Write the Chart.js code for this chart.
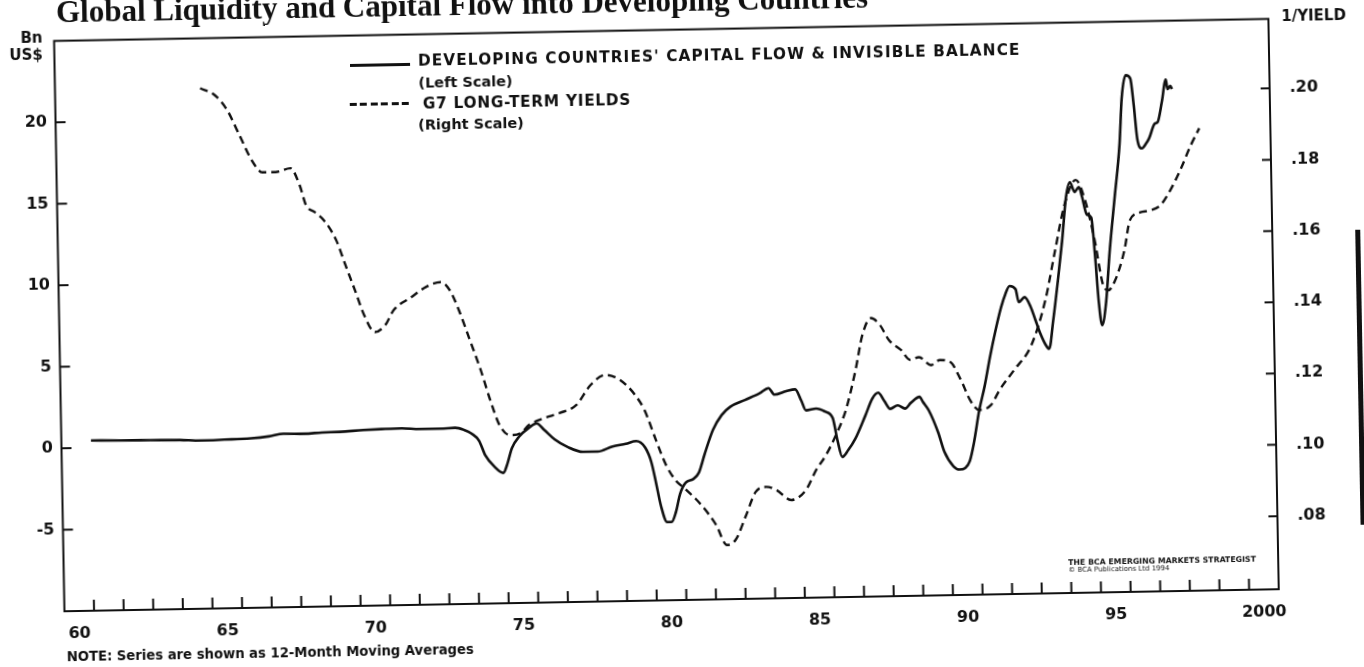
<!DOCTYPE html>
<html>
<head>
<meta charset="utf-8">
<script src="https://cdn.jsdelivr.net/npm/chart.js@4.4.1/dist/chart.umd.min.js"></script>
<style>
    html, body { margin: 0; padding: 0; background: #fff; width: 1364px; height: 667px; overflow: hidden; }
    /* the scanned page sits about one degree off square */
    #sheet { position: absolute; left: 0; top: 0; width: 1364px; height: 667px; transform: rotate(-1.04deg); transform-origin: 682px 333.5px; }
    #chart { position: absolute; left: 0; top: 0; }
    .txt { position: absolute; white-space: nowrap; font-family: "DejaVu Sans", sans-serif; font-weight: bold; color: #111; line-height: 1; }
    .title { font-family: "Liberation Serif", serif; font-size: 31px; left: 62px; top: -15px; }
    .caps { font-size: 15.3px; letter-spacing: 1.1px; }
    .small { font-size: 14.5px; }
    .unit { font-size: 15px; }
    .solidKey { position: absolute; left: 355px; top: 58px; width: 60px; height: 2.5px; background: #111; }
    .dashKey { position: absolute; left: 354px; top: 97px; width: 62px; height: 2.5px; background: repeating-linear-gradient(to right, #111 0 7px, transparent 7px 10.5px); }
    .bar { position: absolute; left: 1357px; top: 242px; width: 5px; height: 295px; background: #111; }
</style>
</head>
<body>
<div id="sheet">
    <canvas id="chart" width="1364" height="667"></canvas>
    <div class="txt title">Global Liquidity and Capital Flow into Developing Countries</div>
    <div class="txt unit" style="right:1316px; top:19px;">Bn</div>
    <div class="txt unit" style="right:1316px; top:36px;">US$</div>
    <div class="txt unit" style="left:1287px; top:20px;">1/YIELD</div>
    <div class="solidKey"></div>
    <div class="txt caps" style="left:423px; top:49px;">DEVELOPING COUNTRIES' CAPITAL FLOW &amp; INVISIBLE BALANCE</div>
    <div class="txt small" style="left:423px; top:71px;">(Left Scale)</div>
    <div class="dashKey"></div>
    <div class="txt caps" style="left:427px; top:92px; letter-spacing:0.75px;">G7 LONG-TERM YIELDS</div>
    <div class="txt small" style="left:422px; top:113px;">(Right Scale)</div>
    <div class="txt" style="left:1064px; top:566px; font-size:7.8px;">THE BCA EMERGING MARKETS STRATEGIST</div>
    <div class="txt" style="left:1064px; top:574px; font-size:7px; font-weight:normal;">© BCA Publications Ltd 1994</div>
    <div class="txt" style="left:61px; top:639px; font-size:13.2px;">NOTE: Series are shown as 12-Month Moving Averages</div>
    <div class="bar"></div>
</div>
<script>
// Developing countries' capital flow & invisible balance, Bn US$ (left scale)
const flowYears = [
    1961.0, 1962.0, 1963.0, 1964.0, 1964.7, 1965.5, 1966.4, 1967.0, 1967.5, 1968.2,
    1968.8, 1969.4, 1970.2, 1970.8, 1971.5, 1972.1, 1972.8, 1973.3, 1973.6, 1973.85,
    1974.1, 1974.3, 1974.6, 1974.9, 1975.05, 1975.2, 1975.45, 1975.8, 1976.05, 1976.3,
    1976.65, 1977.1, 1977.6, 1978.1, 1978.6, 1979.05, 1979.4, 1979.7, 1979.9, 1980.05,
    1980.2, 1980.4, 1980.55, 1980.7, 1980.85, 1981.05, 1981.3, 1981.5, 1981.7, 1982.0,
    1982.3, 1982.6, 1983.1, 1983.6, 1983.9, 1984.1, 1984.5, 1984.8, 1985.0, 1985.15,
    1985.5, 1985.8, 1986.05, 1986.2, 1986.35, 1986.55, 1986.8, 1987.15, 1987.4, 1987.6,
    1987.8, 1988.0, 1988.25, 1988.5, 1988.7, 1989.0, 1989.1, 1989.3, 1989.6, 1989.8,
    1990.1, 1990.3, 1990.5, 1990.65, 1990.8, 1991.0, 1991.2, 1991.4, 1991.6, 1991.8,
    1991.95, 1992.1, 1992.3, 1992.4, 1992.6, 1992.8, 1992.95, 1993.1, 1993.3, 1993.4,
    1993.55, 1993.75, 1993.9, 1994.06, 1994.2, 1994.35, 1994.5, 1994.6, 1994.75, 1994.9,
    1995.0, 1995.1, 1995.2, 1995.35, 1995.5, 1995.7, 1995.9, 1996.0, 1996.15, 1996.3,
    1996.4, 1996.5, 1996.65, 1996.8, 1996.9, 1997.1, 1997.2, 1997.35, 1997.5, 1997.55,
    1997.65, 1997.7
];
const flowValues = [
    0.45, 0.42, 0.40, 0.38, 0.32, 0.35, 0.40, 0.50, 0.65, 0.62,
    0.68, 0.70, 0.78, 0.82, 0.85, 0.78, 0.78, 0.82, 0.68, 0.45,
    0.0, -0.9, -1.6, -2.0, -1.4, -0.5, 0.2, 0.75, 1.0, 0.6,
    0.0, -0.5, -0.8, -0.8, -0.5, -0.35, -0.2, -0.6, -1.5, -2.8,
    -4.2, -5.2, -5.2, -4.6, -3.5, -2.8, -2.6, -2.2, -1.1, 0.4,
    1.3, 1.8, 2.2, 2.6, 2.9, 2.5, 2.7, 2.8, 2.1, 1.5,
    1.6, 1.4, 1.0, -0.4, -1.4, -1.0, -0.3, 1.1, 2.15, 2.5,
    2.0, 1.5, 1.7, 1.5, 1.85, 2.2, 1.9, 1.35, 0.0, -1.2,
    -2.1, -2.3, -2.2, -1.8, -0.7, 1.3, 2.8, 4.6, 6.2, 7.6,
    8.4, 8.9, 8.7, 7.9, 8.2, 7.6, 6.8, 6.0, 5.2, 5.0,
    6.7, 9.4, 11.6, 14.3, 15.2, 14.6, 14.9, 14.3, 13.2, 13.0,
    10.8, 7.9, 6.4, 7.8, 10.9, 14.2, 17.5, 20.3, 21.7, 21.5,
    19.9, 17.8, 17.2, 17.5, 17.8, 18.7, 18.8, 20.0, 21.4, 20.8,
    21.0, 20.8
];

// G7 long-term yields shown as 1/yield (right scale)
const yieldYears = [
    1964.9, 1965.4, 1965.8, 1966.2, 1966.6, 1966.95, 1967.4, 1967.9, 1968.2, 1968.4,
    1968.7, 1969.0, 1969.4, 1969.7, 1970.0, 1970.3, 1970.65, 1971.0, 1971.3, 1971.9,
    1972.4, 1972.9, 1973.2, 1973.5, 1973.85, 1974.2, 1974.5, 1974.8, 1975.15, 1975.5,
    1975.8, 1976.3, 1976.85, 1977.4, 1977.9, 1978.4, 1978.9, 1979.4, 1979.7, 1980.07,
    1980.4, 1980.7, 1981.06, 1981.56, 1982.05, 1982.4, 1982.7, 1983.07, 1983.4, 1983.76,
    1984.1, 1984.6, 1985.1, 1985.46, 1985.8, 1986.15, 1986.5, 1986.85, 1987.1, 1987.4,
    1987.7, 1988.0, 1988.4, 1988.7, 1989.0, 1989.4, 1989.7, 1990.05, 1990.4, 1990.7,
    1991.0, 1991.4, 1991.7, 1992.2, 1992.8, 1993.3, 1993.66, 1994.0, 1994.4, 1994.7,
    1995.0, 1995.26, 1995.43, 1995.67, 1996.0, 1996.2, 1996.56, 1996.9, 1997.24, 1997.58,
    1997.93, 1998.3, 1998.6
];
const yieldValues = [
    0.2055, 0.2034, 0.1992, 0.1921, 0.1850, 0.1816, 0.1816, 0.1826, 0.1778, 0.1722,
    0.1701, 0.1678, 0.1622, 0.1551, 0.1481, 0.1410, 0.1362, 0.1381, 0.1423, 0.1458,
    0.1486, 0.1499, 0.1476, 0.1419, 0.1335, 0.1250, 0.1166, 0.1095, 0.1066, 0.1071,
    0.1094, 0.1112, 0.1126, 0.1147, 0.1203, 0.1230, 0.1215, 0.1172, 0.1130, 0.1045,
    0.0974, 0.0932, 0.0904, 0.0861, 0.0804, 0.0747, 0.0761, 0.0830, 0.0894, 0.0908,
    0.0899, 0.0870, 0.0897, 0.0953, 0.0994, 0.1050, 0.1120, 0.1231, 0.1329, 0.1376,
    0.1356, 0.1313, 0.1285, 0.1257, 0.1264, 0.1241, 0.1255, 0.1249, 0.1198, 0.1141,
    0.1113, 0.1126, 0.1168, 0.1223, 0.1292, 0.1418, 0.1557, 0.1683, 0.1753, 0.1696,
    0.1583, 0.1457, 0.1442, 0.1470, 0.1554, 0.1637, 0.1659, 0.1664, 0.1678, 0.1719,
    0.1775, 0.1844, 0.1892
];

// axes
const xTickYears = [1960, 1965, 1970, 1975, 1980, 1985, 1990, 1995, 2000];
const xTickLabels = ['60', '65', '70', '75', '80', '85', '90', '95', '2000'];
const leftTicks = [-5, 0, 5, 10, 15, 20];
const rightTicks = [0.08, 0.10, 0.12, 0.14, 0.16, 0.18, 0.20];

const toPoints = (xs, ys) => xs.map((x, i) => ({ x, y: ys[i] }));

// box round the plot plus the short inward tick marks
const frameTicks = {
    id: 'frameTicks',
    afterDraw(chart) {
        const { ctx, chartArea: a, scales } = chart;
        ctx.save();
        ctx.strokeStyle = '#111';
        ctx.lineWidth = 2;
        ctx.strokeRect(a.left, a.top, a.right - a.left, a.bottom - a.top);
        ctx.beginPath();
        for (let yr = 1961; yr <= 2000; yr++) {
            const px = scales.x.getPixelForValue(yr);
            ctx.moveTo(px, a.bottom);
            ctx.lineTo(px, a.bottom - 11);
        }
        leftTicks.forEach(v => {
            const py = scales.y.getPixelForValue(v);
            ctx.moveTo(a.left, py);
            ctx.lineTo(a.left + 10, py);
        });
        rightTicks.forEach(v => {
            const py = scales.y1.getPixelForValue(v);
            ctx.moveTo(a.right, py);
            ctx.lineTo(a.right - 9, py);
        });
        ctx.stroke();
        ctx.restore();
    }
};

Chart.defaults.font.family = "'DejaVu Sans', sans-serif";
Chart.defaults.font.size = 16;
Chart.defaults.font.weight = 'bold';
Chart.defaults.color = '#111';

new Chart(document.getElementById('chart'), {
    type: 'line',
    data: {
        datasets: [
            {
                label: "DEVELOPING COUNTRIES' CAPITAL FLOW & INVISIBLE BALANCE",
                data: toPoints(flowYears, flowValues),
                yAxisID: 'y',
                borderColor: '#111',
                borderWidth: 2.6,
                pointRadius: 0,
                cubicInterpolationMode: 'monotone',
                borderJoinStyle: 'round'
            },
            {
                label: 'G7 LONG-TERM YIELDS',
                data: toPoints(yieldYears, yieldValues),
                yAxisID: 'y1',
                borderColor: '#111',
                borderWidth: 2.4,
                borderDash: [8, 5],
                pointRadius: 0,
                cubicInterpolationMode: 'monotone'
            }
        ]
    },
    options: {
        responsive: false,
        animation: false,
        devicePixelRatio: 1,
        layout: { padding: { top: 28.5, left: 0, right: 0, bottom: 0 } },
        plugins: {
            legend: { display: false },
            tooltip: { enabled: false }
        },
        scales: {
            x: {
                type: 'linear',
                min: 1960,
                max: 2001,
                grid: { display: false, drawTicks: false },
                border: { display: false },
                ticks: {
                    autoSkip: false,
                    maxRotation: 0,
                    padding: 13,
                    callback: (v, i) => xTickLabels[i]
                },
                // labels sit in the middle of each year
                afterBuildTicks: s => { s.ticks = xTickYears.map(v => ({ value: v + 0.5 })); },
                afterFit: s => { s.height = 67; }
            },
            y: {
                position: 'left',
                min: -10,
                max: 25,
                grid: { display: false, drawTicks: false },
                border: { display: false },
                ticks: { padding: 8.5 },
                afterBuildTicks: s => { s.ticks = leftTicks.map(v => ({ value: v })); },
                afterFit: s => { s.width = 59.5; }
            },
            y1: {
                position: 'right',
                min: 0.0595,
                max: 0.2195,
                grid: { display: false, drawTicks: false },
                border: { display: false },
                ticks: {
                    padding: 20,
                    callback: v => v.toFixed(2).slice(1)
                },
                afterBuildTicks: s => { s.ticks = rightTicks.map(v => ({ value: v })); },
                afterFit: s => { s.width = 90; }
            }
        }
    },
    plugins: [frameTicks]
});
</script>
</body>
</html>
